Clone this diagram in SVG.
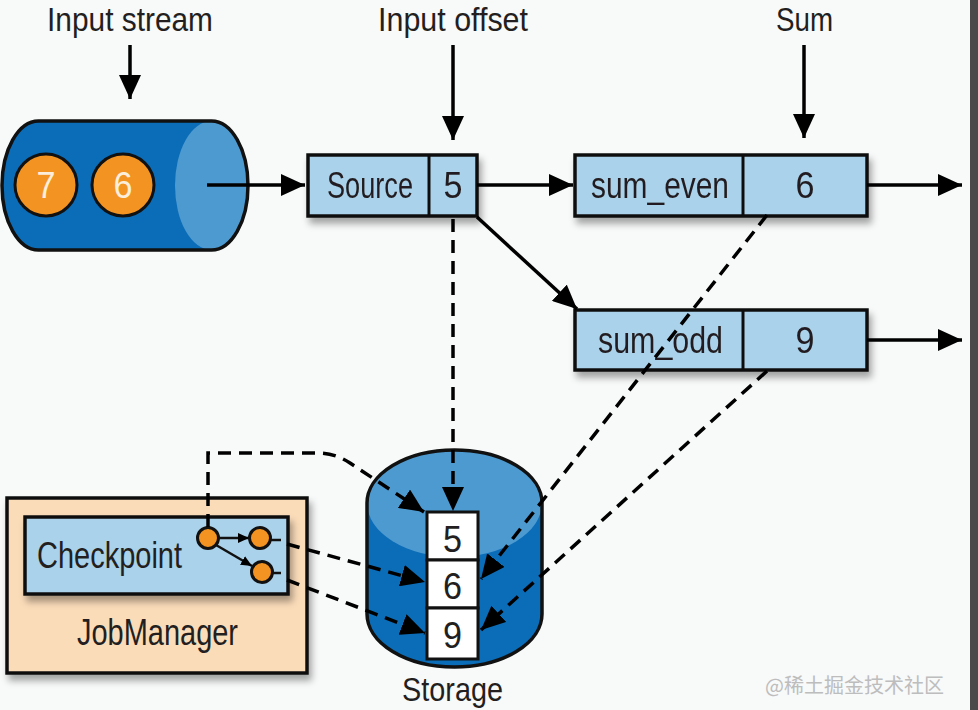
<svg xmlns="http://www.w3.org/2000/svg" width="978" height="710" viewBox="0 0 978 710">
<defs>
<style>
.lbl{font-family:"Liberation Sans",Arial,sans-serif;font-size:37px;fill:#231f20}
.top{font-family:"Liberation Sans",Arial,sans-serif;font-size:34px;fill:#231f20}
.num{font-family:"Liberation Sans",Arial,sans-serif;font-size:36px;fill:#231f20}
.box{fill:#aad2ea;stroke:#111;stroke-width:3.5}
.ln{fill:none;stroke:#000;stroke-width:3.5}
.dash{fill:none;stroke:#000;stroke-width:3.5;stroke-dasharray:13 8}
.orange{fill:#f39422;stroke:#111;stroke-width:3}
</style>
<marker id="ah" markerUnits="userSpaceOnUse" markerWidth="26" markerHeight="22" refX="24" refY="11" orient="auto">
<path d="M0,0 L24,11 L0,22 z" fill="#000"/>
</marker>
<marker id="ahs" markerUnits="userSpaceOnUse" markerWidth="12" markerHeight="10" refX="11" refY="5" orient="auto">
<path d="M0,0 L11,5 L0,10 z" fill="#000"/>
</marker>
<filter id="sh" x="-10%" y="-20%" width="130%" height="160%">
<feDropShadow dx="3" dy="6" stdDeviation="3.5" flood-color="#000" flood-opacity="0.35"/>
</filter>
</defs>
<rect width="978" height="710" fill="#f8f9f9"/>
<rect x="970" y="0" width="8" height="710" fill="#4a4a4a"/>

<g id="label-input-stream"><text class="top" x="47" y="31" textLength="166" lengthAdjust="spacingAndGlyphs">Input stream</text></g>
<g id="label-input-offset"><text class="top" x="378" y="31" textLength="150" lengthAdjust="spacingAndGlyphs">Input offset</text></g>
<g id="label-sum"><text class="top" x="776" y="31" textLength="57" lengthAdjust="spacingAndGlyphs">Sum</text></g>

<g id="input-stream">
<path d="M38.5,121 H211.5 A36.5,64.5 0 0 1 211.5,250 H38.5 A36.5,64.5 0 0 1 38.5,121 Z" fill="#0b6cb7"/>
<ellipse cx="211.5" cy="185.5" rx="36.5" ry="64.5" fill="#4d9ad0"/>
<path d="M38.5,121 H211.5 A36.5,64.5 0 0 1 211.5,250 H38.5 A36.5,64.5 0 0 1 38.5,121 Z" fill="none" stroke="#111" stroke-width="3.5"/>
<circle class="orange" cx="46" cy="185" r="31"/>
<circle class="orange" cx="123" cy="185" r="31"/>
<text class="num" x="46" y="198" text-anchor="middle" textLength="19" lengthAdjust="spacingAndGlyphs" style="fill:#fbeedb">7</text>
<text class="num" x="123" y="198" text-anchor="middle" textLength="19" lengthAdjust="spacingAndGlyphs" style="fill:#fbeedb">6</text>
</g>

<g id="source" filter="url(#sh)">
<rect class="box" x="308" y="155" width="169" height="61"/>
<line x1="429" y1="155" x2="429" y2="216" stroke="#111" stroke-width="3"/>
<text class="lbl" x="327" y="198" textLength="86" lengthAdjust="spacingAndGlyphs">Source</text>
<text class="num" x="453" y="198" text-anchor="middle" textLength="19" lengthAdjust="spacingAndGlyphs">5</text>
</g>

<g id="sum-even" filter="url(#sh)">
<rect class="box" x="575" y="155" width="292" height="61"/>
<line x1="743" y1="155" x2="743" y2="216" stroke="#111" stroke-width="3"/>
<text class="lbl" x="591" y="198" textLength="138" lengthAdjust="spacingAndGlyphs">sum_even</text>
<text class="num" x="805" y="198" text-anchor="middle" textLength="19" lengthAdjust="spacingAndGlyphs">6</text>
</g>

<g id="sum-odd" filter="url(#sh)">
<rect class="box" x="575" y="310" width="292" height="60"/>
<line x1="743" y1="310" x2="743" y2="370" stroke="#111" stroke-width="3"/>
<text class="lbl" x="598" y="353" textLength="125" lengthAdjust="spacingAndGlyphs">sum_odd</text>
<text class="num" x="805" y="353" text-anchor="middle" textLength="19" lengthAdjust="spacingAndGlyphs">9</text>
</g>

<g id="storage">
<path d="M367,503 A87.5,53 0 0 1 542,503 V614 A87.5,53 0 0 1 367,614 Z" fill="#0b6cb7"/>
<ellipse cx="454.5" cy="503" rx="87.5" ry="54" fill="#4d9ad0"/>
<path d="M367,503 A87.5,53 0 0 1 542,503 V614 A87.5,53 0 0 1 367,614 Z" fill="none" stroke="#111" stroke-width="3.5"/>
<rect x="427" y="512" width="51" height="48" fill="#fff" stroke="#111" stroke-width="3"/>
<rect x="427" y="560" width="51" height="48" fill="#fff" stroke="#111" stroke-width="3"/>
<rect x="427" y="608" width="51" height="51" fill="#fff" stroke="#111" stroke-width="3"/>
<text class="num" x="452.5" y="552" text-anchor="middle" textLength="19" lengthAdjust="spacingAndGlyphs">5</text>
<text class="num" x="452.5" y="599" text-anchor="middle" textLength="19" lengthAdjust="spacingAndGlyphs">6</text>
<text class="num" x="452.5" y="648" text-anchor="middle" textLength="19" lengthAdjust="spacingAndGlyphs">9</text>
<text class="top" x="402" y="701" font-size="33" textLength="101" lengthAdjust="spacingAndGlyphs">Storage</text>
</g>

<g id="jobmanager">
<rect x="7" y="498" width="300" height="175" fill="#fbdcb9" stroke="#111" stroke-width="3.5" filter="url(#sh)"/>
<text class="lbl" x="77" y="645" textLength="161" lengthAdjust="spacingAndGlyphs">JobManager</text>
</g>

<g id="checkpoint">
<rect class="box" x="25" y="517" width="263" height="77" filter="url(#sh)"/>
<text class="lbl" x="37" y="568" textLength="145" lengthAdjust="spacingAndGlyphs">Checkpoint</text>
<line x1="218" y1="538" x2="249" y2="538" stroke="#111" stroke-width="2.5" marker-end="url(#ahs)"/>
<line x1="216" y1="545" x2="252" y2="566" stroke="#111" stroke-width="2.5" marker-end="url(#ahs)"/>
<line x1="270" y1="540" x2="281" y2="540" stroke="#111" stroke-width="2.5"/>
<line x1="272" y1="573" x2="281" y2="573" stroke="#111" stroke-width="2.5"/>
<circle class="orange" cx="208" cy="538" r="10.5"/>
<circle class="orange" cx="260" cy="538" r="10.5"/>
<circle class="orange" cx="262" cy="572" r="10.5"/>
</g>

<g id="connectors">
<line class="ln" x1="130" y1="45" x2="130" y2="99" marker-end="url(#ah)"/>
<line class="ln" x1="453" y1="45" x2="453" y2="140" marker-end="url(#ah)"/>
<line class="ln" x1="804" y1="45" x2="804" y2="138" marker-end="url(#ah)"/>
<line class="ln" x1="207" y1="185" x2="305" y2="185" marker-end="url(#ah)"/>
<line class="ln" x1="477" y1="185" x2="573" y2="185" marker-end="url(#ah)"/>
<line class="ln" x1="867" y1="185" x2="962" y2="185" marker-end="url(#ah)"/>
<line class="ln" x1="867" y1="340" x2="962" y2="340" marker-end="url(#ah)"/>
<line class="ln" x1="477" y1="217" x2="577" y2="309" marker-end="url(#ah)"/>
<line class="dash" x1="453" y1="219" x2="453" y2="511" marker-end="url(#ah)"/>
<path class="dash" d="M208,527 V453 H318 Q335,453 350,463 L424,512" marker-end="url(#ah)"/>
<line class="dash" x1="287" y1="544" x2="425" y2="582" marker-end="url(#ah)"/>
<line class="dash" x1="287" y1="580" x2="425" y2="633" marker-end="url(#ah)"/>
<line class="dash" x1="767" y1="215" x2="481" y2="579" marker-end="url(#ah)"/>
<line class="dash" x1="767" y1="371" x2="481" y2="630" marker-end="url(#ah)"/>
</g>

<text x="765" y="693" font-family="'Noto Sans CJK SC',sans-serif" font-size="20" fill="#bdbdbd">@稀土掘金技术社区</text>
</svg>
